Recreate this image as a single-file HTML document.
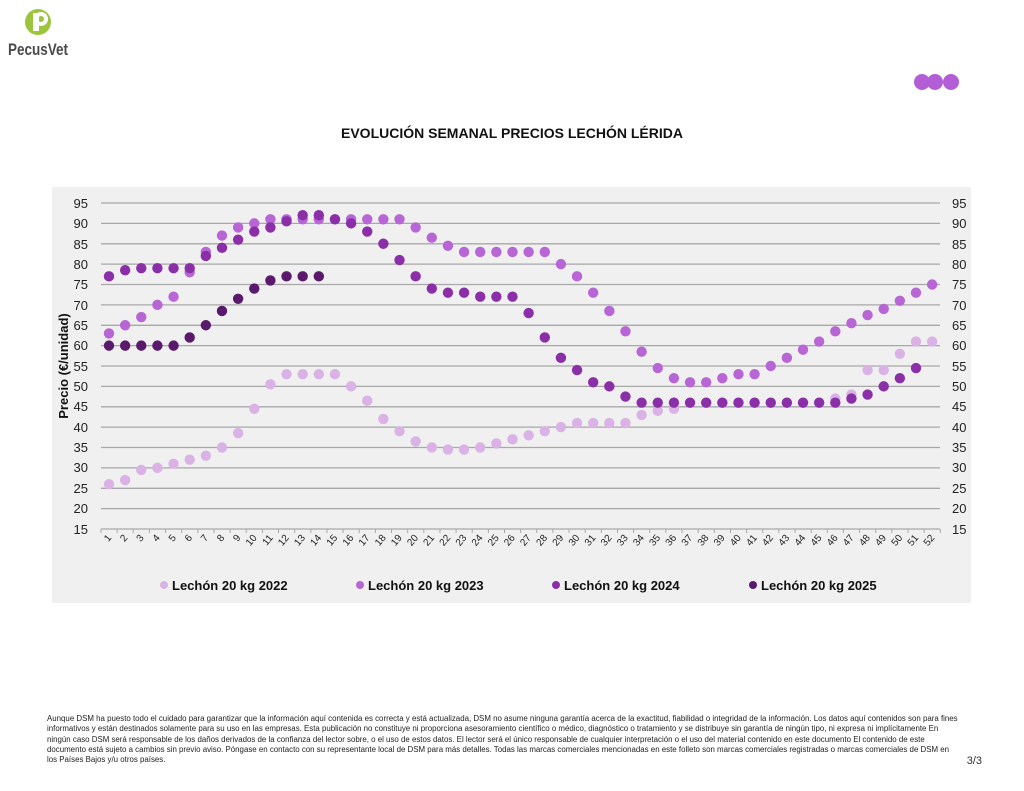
<!DOCTYPE html>
<html><head><meta charset="utf-8"><style>
body{margin:0;width:1024px;height:791px;background:#fff;font-family:"Liberation Sans",sans-serif;position:relative;overflow:hidden}
svg text{font-family:"Liberation Sans",sans-serif}
</style></head><body>
<svg width="1024" height="791" style="position:absolute;left:0;top:0">
<circle cx="38" cy="22" r="13" fill="#9cc43c"/>
<rect x="33" y="13" width="6" height="18" fill="#fff"/><circle cx="41" cy="19" r="5" fill="none" stroke="#fff" stroke-width="4"/>
<text x="8" y="55" font-size="17" font-weight="bold" fill="#4a4a4a" textLength="60" lengthAdjust="spacingAndGlyphs">PecusVet</text>
<circle cx="922" cy="82" r="8" fill="#b35ed6"/><circle cx="935" cy="82" r="8" fill="#b35ed6"/><circle cx="951" cy="82" r="8" fill="#b35ed6"/>
<text x="512" y="138" font-size="14" font-weight="bold" text-anchor="middle" fill="#111">EVOLUCIÓN SEMANAL PRECIOS LECHÓN LÉRIDA</text>
<rect x="52" y="187" width="919" height="416" fill="#f0f0f0"/>
<g stroke="#a8a8a8" stroke-width="1.3">
<line x1="101" x2="940" y1="203" y2="203"/><line x1="101" x2="940" y1="223.4" y2="223.4"/><line x1="101" x2="940" y1="243.8" y2="243.8"/><line x1="101" x2="940" y1="264.1" y2="264.1"/><line x1="101" x2="940" y1="284.5" y2="284.5"/><line x1="101" x2="940" y1="304.9" y2="304.9"/><line x1="101" x2="940" y1="325.3" y2="325.3"/><line x1="101" x2="940" y1="345.6" y2="345.6"/><line x1="101" x2="940" y1="366" y2="366"/><line x1="101" x2="940" y1="386.4" y2="386.4"/><line x1="101" x2="940" y1="406.8" y2="406.8"/><line x1="101" x2="940" y1="427.1" y2="427.1"/><line x1="101" x2="940" y1="447.5" y2="447.5"/><line x1="101" x2="940" y1="467.9" y2="467.9"/><line x1="101" x2="940" y1="488.3" y2="488.3"/><line x1="101" x2="940" y1="508.6" y2="508.6"/><line x1="101" x2="940" y1="529" y2="529"/>
</g>
<g id="ticks" stroke="#a8a8a8"></g>
<g font-size="13" fill="#222" text-anchor="end">
<text x="88" y="208">95</text><text x="88" y="228">90</text><text x="88" y="249">85</text><text x="88" y="269">80</text><text x="88" y="289">75</text><text x="88" y="310">70</text><text x="88" y="330">65</text><text x="88" y="350">60</text><text x="88" y="371">55</text><text x="88" y="391">50</text><text x="88" y="411">45</text><text x="88" y="432">40</text><text x="88" y="452">35</text><text x="88" y="472">30</text><text x="88" y="493">25</text><text x="88" y="513">20</text><text x="88" y="534">15</text>
</g>
<g font-size="13" fill="#222">
<text x="952" y="208">95</text><text x="952" y="228">90</text><text x="952" y="249">85</text><text x="952" y="269">80</text><text x="952" y="289">75</text><text x="952" y="310">70</text><text x="952" y="330">65</text><text x="952" y="350">60</text><text x="952" y="371">55</text><text x="952" y="391">50</text><text x="952" y="411">45</text><text x="952" y="432">40</text><text x="952" y="452">35</text><text x="952" y="472">30</text><text x="952" y="493">25</text><text x="952" y="513">20</text><text x="952" y="534">15</text>
</g>
<text transform="translate(68,366) rotate(-90)" font-size="13" font-weight="bold" text-anchor="middle" fill="#111">Precio (€/unidad)</text>
<g font-size="10" fill="#222" text-anchor="end">
<text transform="translate(112,538) rotate(-50)">1</text><text transform="translate(128.1,538) rotate(-50)">2</text><text transform="translate(144.3,538) rotate(-50)">3</text><text transform="translate(160.4,538) rotate(-50)">4</text><text transform="translate(176.6,538) rotate(-50)">5</text><text transform="translate(192.7,538) rotate(-50)">6</text><text transform="translate(208.8,538) rotate(-50)">7</text><text transform="translate(225,538) rotate(-50)">8</text><text transform="translate(241.1,538) rotate(-50)">9</text><text transform="translate(257.3,538) rotate(-50)">10</text><text transform="translate(273.4,538) rotate(-50)">11</text><text transform="translate(289.5,538) rotate(-50)">12</text><text transform="translate(305.7,538) rotate(-50)">13</text><text transform="translate(321.8,538) rotate(-50)">14</text><text transform="translate(338,538) rotate(-50)">15</text><text transform="translate(354.1,538) rotate(-50)">16</text><text transform="translate(370.2,538) rotate(-50)">17</text><text transform="translate(386.4,538) rotate(-50)">18</text><text transform="translate(402.5,538) rotate(-50)">19</text><text transform="translate(418.7,538) rotate(-50)">20</text><text transform="translate(434.8,538) rotate(-50)">21</text><text transform="translate(450.9,538) rotate(-50)">22</text><text transform="translate(467.1,538) rotate(-50)">23</text><text transform="translate(483.2,538) rotate(-50)">24</text><text transform="translate(499.4,538) rotate(-50)">25</text><text transform="translate(515.5,538) rotate(-50)">26</text><text transform="translate(531.6,538) rotate(-50)">27</text><text transform="translate(547.8,538) rotate(-50)">28</text><text transform="translate(563.9,538) rotate(-50)">29</text><text transform="translate(580.1,538) rotate(-50)">30</text><text transform="translate(596.2,538) rotate(-50)">31</text><text transform="translate(612.3,538) rotate(-50)">32</text><text transform="translate(628.5,538) rotate(-50)">33</text><text transform="translate(644.6,538) rotate(-50)">34</text><text transform="translate(660.8,538) rotate(-50)">35</text><text transform="translate(676.9,538) rotate(-50)">36</text><text transform="translate(693,538) rotate(-50)">37</text><text transform="translate(709.2,538) rotate(-50)">38</text><text transform="translate(725.3,538) rotate(-50)">39</text><text transform="translate(741.5,538) rotate(-50)">40</text><text transform="translate(757.6,538) rotate(-50)">41</text><text transform="translate(773.7,538) rotate(-50)">42</text><text transform="translate(789.9,538) rotate(-50)">43</text><text transform="translate(806,538) rotate(-50)">44</text><text transform="translate(822.2,538) rotate(-50)">45</text><text transform="translate(838.3,538) rotate(-50)">46</text><text transform="translate(854.4,538) rotate(-50)">47</text><text transform="translate(870.6,538) rotate(-50)">48</text><text transform="translate(886.7,538) rotate(-50)">49</text><text transform="translate(902.9,538) rotate(-50)">50</text><text transform="translate(919,538) rotate(-50)">51</text><text transform="translate(935.1,538) rotate(-50)">52</text>
</g>
<g id="pts"></g>
<g font-size="13" font-weight="bold" fill="#111">
<circle cx="164" cy="585" r="4" fill="#dab2e6"/><text x="172" y="590">Lechón 20 kg 2022</text>
<circle cx="360" cy="585" r="4" fill="#b865d6"/><text x="368" y="590">Lechón 20 kg 2023</text>
<circle cx="556" cy="585" r="4" fill="#8b2fa8"/><text x="564" y="590">Lechón 20 kg 2024</text>
<circle cx="753" cy="585" r="4" fill="#5a1a6c"/><text x="761" y="590">Lechón 20 kg 2025</text>
</g>
<text x="982" y="764" font-size="11" fill="#333" text-anchor="end">3/3</text>
</svg>
<div style="position:absolute;left:47px;top:714px;width:912px;font-size:7.9px;line-height:10.3px;color:#222">Aunque DSM ha puesto todo el cuidado para garantizar que la información aquí contenida es correcta y está actualizada, DSM no asume ninguna garantía acerca de la exactitud, fiabilidad o integridad de la información. Los datos aquí contenidos son para fines informativos y están destinados solamente para su uso en las empresas. Esta publicación no constituye ni proporciona asesoramiento científico o médico, diagnóstico o tratamiento y se distribuye sin garantía de ningún tipo, ni expresa ni implícitamente En ningún caso DSM será responsable de los daños derivados de la confianza del lector sobre, o el uso de estos datos. El lector será el único responsable de cualquier interpretación o el uso del material contenido en este documento El contenido de este documento está sujeto a cambios sin previo aviso. Póngase en contacto con su representante local de DSM para más detalles. Todas las marcas comerciales mencionadas en este folleto son marcas comerciales registradas o marcas comerciales de DSM en los Países Bajos y/u otros países.</div>
<script>
var NS="http://www.w3.org/2000/svg";
function X(w){return 109+(w-1)*16.14}function Y(v){return 529-(v-15)*4.075}
var tk=document.getElementById("ticks");
for(var i=0;i<=52;i++){var l=document.createElementNS(NS,"line");var x=101+i*16.14;l.setAttribute("x1",x);l.setAttribute("x2",x);l.setAttribute("y1",529);l.setAttribute("y2",533);tk.appendChild(l);}
var S=[["#dab2e6",[26,27,29.5,30,31,32,33,35,38.5,44.5,50.5,53,53,53,53,50,46.5,42,39,36.5,35,34.5,34.5,35,36,37,38,39,40,41,41,41,41,43,44,44.5,46,46,46,46,46,46,46,46,46,47,48,54,54,58,61,61]],
["#b865d6",[63,65,67,70,72,78,83,87,89,90,91,91,91,91,91,91,91,91,91,89,86.5,84.5,83,83,83,83,83,83,80,77,73,68.5,63.5,58.5,54.5,52,51,51,52,53,53,55,57,59,61,63.5,65.5,67.5,69,71,73,75]],
["#8b2fa8",[77,78.5,79,79,79,79,82,84,86,88,89,90.5,92,92,91,90,88,85,81,77,74,73,73,72,72,72,68,62,57,54,51,50,47.5,46,46,46,46,46,46,46,46,46,46,46,46,46,47,48,50,52,54.5]],
["#5a1a6c",[60,60,60,60,60,62,65,68.5,71.5,74,76,77,77,77]]];
var g=document.getElementById("pts");
S.forEach(function(s){s[1].forEach(function(v,i){var c=document.createElementNS(NS,"circle");c.setAttribute("cx",X(i+1));c.setAttribute("cy",Y(v));c.setAttribute("r",5.2);c.setAttribute("fill",s[0]);g.appendChild(c);});});
</script>
</body></html>
